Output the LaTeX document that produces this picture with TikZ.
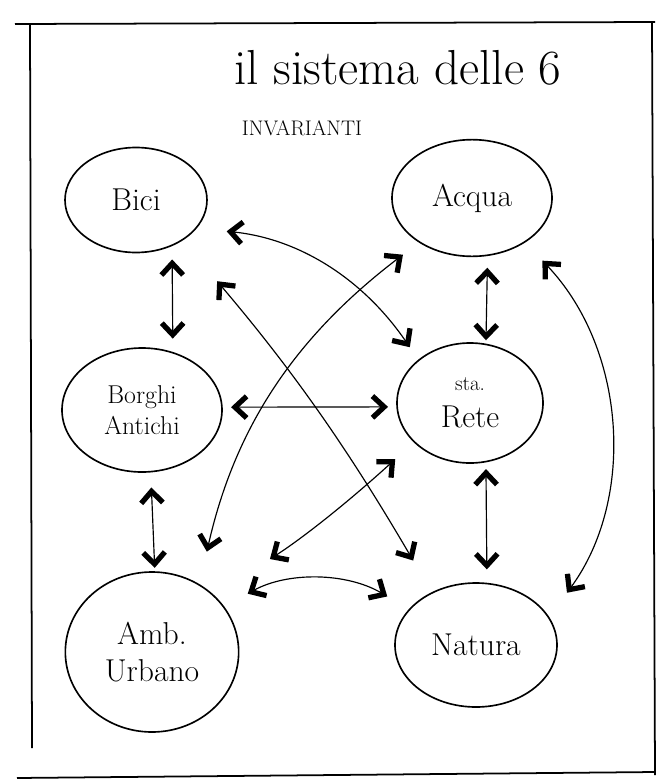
\documentclass[tikz,border=0pt]{standalone}
\usetikzlibrary{arrows.meta, shapes.geometric}

\begin{document}
\begin{tikzpicture}[x=0.03cm, y=-0.03cm, inv/.style={draw, ellipse, line width=1.4pt, inner sep=0pt, align=center, font=\fontsize{27}{32}\selectfont}, arrow/.style={{Straight Barb[length=3.5mm, width=6.5mm, line width=4.5pt]}-{Straight Barb[length=3.5mm, width=6.5mm, line width=4.5pt]}, line width=1pt}, frame/.style={line width=1.5pt}]

\useasboundingbox (0,0) rectangle (658,783);
\draw[frame] (15,24) -- (655,22);\draw[frame] (30,24) -- (32,748);\draw[frame] (652,22) -- (655,775);\draw[frame] (17,778) -- (655,772);

\node[font=\fontsize{42}{44}\selectfont] (titolo) at (398,68) {il sistema delle 6};
\node[font=\fontsize{18}{20}\selectfont] (sottotitolo) at (302,128) {INVARIANTI};

\node[inv, minimum width=4.26cm, minimum height=3.15cm] (bici) at (136,200) {Bici};
\node[inv, minimum width=4.8cm, minimum height=3.5cm] (acqua) at (472,198) {Acqua};
\node[inv, minimum width=4.8cm, minimum height=3.72cm, font=\fontsize{22}{26}\selectfont] (borghi) at (142,410) {Borghi\\Antichi};
\node[inv, minimum width=4.38cm, minimum height=3.6cm] (rete) at (470,403) {{\fontsize{18}{20}\selectfont sta.}\\Rete};
\node[inv, minimum width=5.2cm, minimum height=4.8cm] (amb) at (152,652) {Amb.\\Urbano};
\node[inv, minimum width=4.86cm, minimum height=3.72cm] (natura) at (476,645) {Natura};

\draw[arrow, shorten <=4mm, shorten >=4mm] (bici.-52) -- (borghi.62);\draw[arrow, shorten <=4.5mm, shorten >=1mm] (borghi.-82) -- (amb.88);
\draw[arrow, shorten <=3.5mm, shorten >=1mm] (acqua.-75) -- (rete.75);\draw[arrow, shorten <=2mm, shorten >=4mm] (rete.-75) -- (natura.80);
\draw[arrow, shorten <=2.5mm, shorten >=2.5mm] (borghi.2) -- (rete.183);
\draw[arrow, shorten <=9mm, shorten >=4.5mm] (bici.-25) to[bend left=25] (rete.140);
\draw[arrow, shorten <=16mm, shorten >=11mm] (bici.-41) to[bend left=5] (natura.130);
\draw[arrow, shorten <=6mm, shorten >=10mm] (acqua.-140) to[bend right=20] (amb.55);
\draw[arrow, shorten <=7.5mm, shorten >=20mm] (rete.-145) to[bend left=5] (amb.43);
\draw[arrow, shorten <=8mm, shorten >=7.5mm] (amb.32) to[bend left=30] (natura.152);
\draw[arrow, shorten <=7.5mm, shorten >=9mm] (acqua.-40) to[bend left=40] (natura.21);

\end{tikzpicture}
\end{document}
